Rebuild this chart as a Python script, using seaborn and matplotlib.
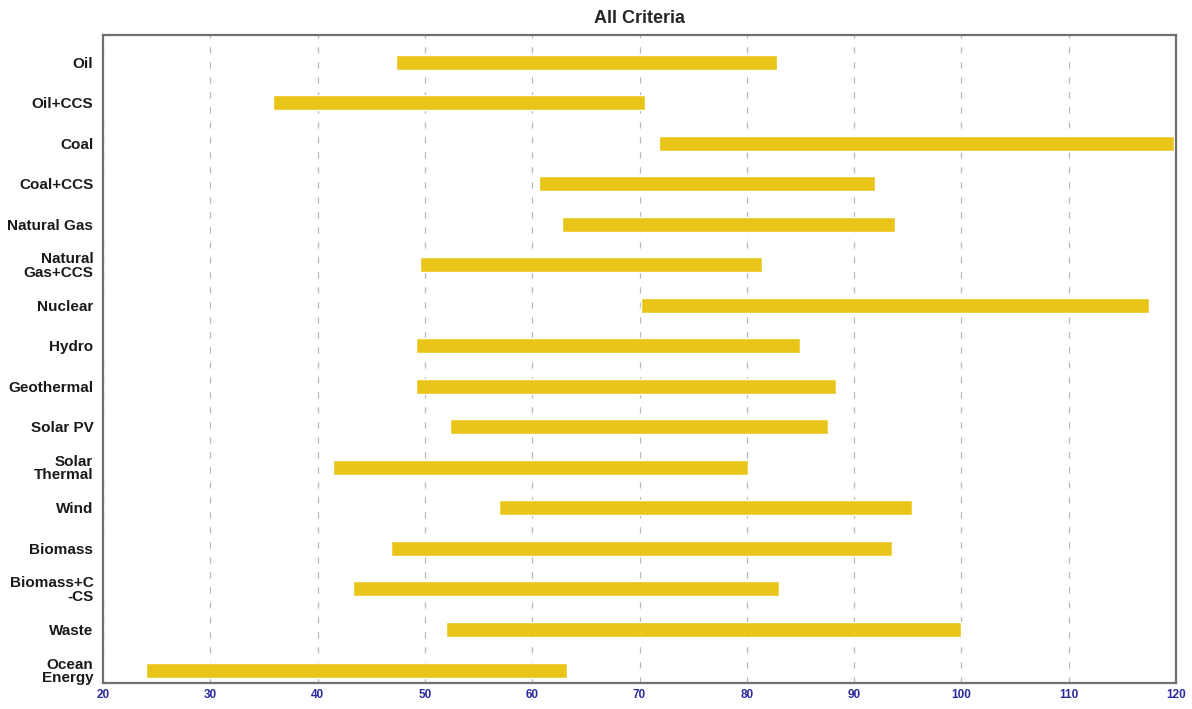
import numpy as np
import pandas as pd
import matplotlib
matplotlib.use("Agg")
from matplotlib import pyplot as plt
import seaborn as sns

# ranges per technology
technologies = ["Oil", "Oil+CCS", "Coal", "Coal+CCS", "Natural Gas",
                "Natural\nGas+CCS", "Nuclear", "Hydro", "Geothermal", "Solar PV",
                "Solar\nThermal", "Wind", "Biomass", "Biomass+C\n-CS", "Waste",
                "Ocean\nEnergy"]
low = [47.3, 35.8, 71.8, 60.6, 62.8, 49.5, 70.1, 49.2, 49.2, 52.3,
       41.4, 56.9, 46.8, 43.3, 52.0, 24.0]
high = [82.8, 70.5, 119.8, 91.9, 93.8, 81.4, 117.5, 85.0, 88.3, 87.6,
        80.1, 95.4, 93.5, 83.0, 100.0, 63.2]
xticks = [20, 30, 40, 50, 60, 70, 80, 90, 100, 110, 120]

df = pd.DataFrame({"tech": technologies, "low": low, "high": high})
df["span"] = df["high"] - df["low"]

sns.set_theme(style="white")
plt.rcParams["font.family"] = ["Liberation Sans", "DejaVu Sans"]

fig = plt.figure(figsize=(11.92, 7.09), dpi=100)
ax = fig.add_axes([0.0864, 0.0367, 0.9002, 0.9139])

sns.barplot(data=df, y="tech", x="span", order=technologies, orient="y",
            left=df["low"].values, color="#e9c51a", saturation=1,
            width=0.37, ax=ax, errorbar=None)

ax.set_xlim(20, 120)
ax.set_ylim(15.32, -0.67)
ax.set_xticks(xticks)
ax.set_xticklabels([str(t) for t in xticks], color="#2b2b9c",
                   fontsize=8.5, fontweight="bold")
ax.set_yticks(range(len(technologies)))
ax.set_yticklabels(technologies, fontsize=11, fontweight="bold",
                   color="#1a1a1a", linespacing=0.95)
ax.tick_params(axis="both", length=0)
ax.tick_params(axis="x", pad=4)
ax.tick_params(axis="y", pad=7)
ax.set_xlabel("")
ax.set_ylabel("")

ax.xaxis.grid(True, color="#b8b8b8", linestyle=(0, (5, 7)), linewidth=0.9)
ax.set_axisbelow(True)
for s in ax.spines.values():
    s.set_visible(True)
    s.set_color("#707070")
    s.set_linewidth(1.6)

ax.set_title("All Criteria", fontsize=13, fontweight="bold", pad=9)

fig.savefig("out.png", dpi=100)
